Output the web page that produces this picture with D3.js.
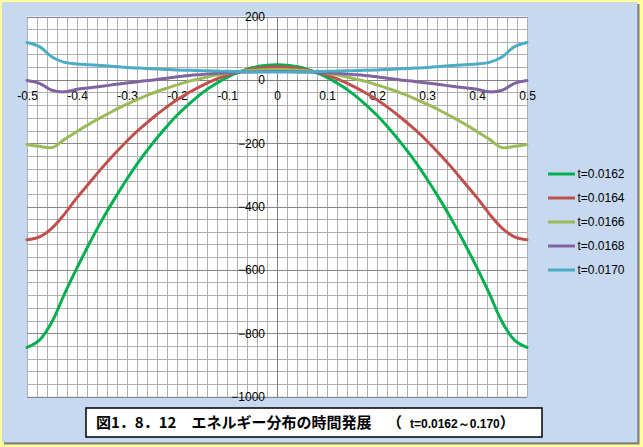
<!DOCTYPE html>
<html><head><meta charset="utf-8">
<script src="https://cdn.jsdelivr.net/npm/d3@7"></script>
<style>
html,body{margin:0;padding:0;background:#FFFF99;}
svg{display:block;}
</style></head>
<body>
<svg id="chart" width="643" height="447"></svg>
<script>
// ---- data ----
const xValues = [-0.5,-0.475,-0.45,-0.425,-0.4,-0.375,-0.35,-0.325,-0.3,-0.275,-0.25,-0.225,-0.2,-0.175,-0.15,-0.125,-0.1,-0.075,-0.05,-0.025,0,
                 0.025,0.05,0.075,0.1,0.125,0.15,0.175,0.2,0.225,0.25,0.275,0.3,0.325,0.35,0.375,0.4,0.425,0.45,0.475,0.5];
const seriesNames = ["t=0.0162","t=0.0164","t=0.0166","t=0.0168","t=0.0170"];
const seriesColors = ["#00B050","#C0504D","#9BBB59","#8064A2","#4BACC6"];
const t0162 = [-845,-822,-764,-676,-594,-516,-443,-376,-313,-255,-203,-155,-112,-75,-42,-15,8,25,38,45,48,
               45,38,25,8,-15,-42,-75,-112,-155,-203,-255,-313,-376,-443,-516,-594,-676,-764,-822,-845];
const t0164 = [-505,-496,-468,-424,-372,-325,-278,-234,-193,-156,-122,-91,-63,-39,-18,0,15,26,34,39,41,
               39,34,26,15,0,-18,-39,-63,-91,-122,-156,-193,-234,-278,-325,-372,-424,-468,-496,-505];
const t0166 = [-204,-210,-214,-188,-163,-139,-117,-96,-77,-59,-43,-29,-16,-4,5,14,21,26,30,32,33,
               32,30,26,21,14,5,-4,-16,-29,-43,-59,-77,-96,-117,-139,-163,-188,-214,-210,-204];
const t0168 = [-2,-11,-33,-38,-30,-25,-20,-15,-10,-5,-1,4,10,14,17,20,22,24,25,26,27,
               26,25,24,22,20,17,14,10,4,-1,-5,-10,-15,-20,-25,-30,-38,-33,-11,-2];
const t0170 = [118,105,72,55,50,48,45,42,39,37,35,33,31,30,29,28,27,26,25,25,25,
               25,25,26,27,28,29,30,31,33,35,37,39,42,45,48,50,55,72,105,118];
const seriesValues = [t0162,t0164,t0166,t0168,t0170];
const xTickValues = [-0.5,-0.4,-0.3,-0.2,-0.1,0,0.1,0.2,0.3,0.4,0.5];
const xTickLabels = ["-0.5","-0.4","-0.3","-0.2","-0.1","0","0.1","0.2","0.3","0.4","0.5"];
const yTickValues = [200,0,-200,-400,-600,-800,-1000];
const captionMain = "図1．8．12　エネルギー分布の時間発展";
const captionSub = "t=0.0162～0.170";

// ---- layout ----
const svg = d3.select("#chart");
const W = 643, H = 447;
const plot = {left:27, right:527, top:16.5, bottom:396.5};
const x = d3.scaleLinear().domain([-0.5,0.5]).range([plot.left, plot.right]);
const y = d3.scaleLinear().domain([-1000,200]).range([plot.bottom, plot.top]);
const font = "'Liberation Sans', Arial, sans-serif";

// background
svg.append("rect").attr("width",W).attr("height",H).attr("fill","#FFFF99");
svg.append("rect").attr("x",4).attr("y",4).attr("width",635.5).attr("height",440.5).attr("fill","#808080");
svg.append("rect").attr("x",2).attr("y",2).attr("width",635.3).attr("height",440.3).attr("fill","#C6D9F1");

// plot area
svg.append("rect").attr("x",plot.left).attr("y",plot.top)
  .attr("width",plot.right-plot.left).attr("height",plot.bottom-plot.top).attr("fill","#FFFFFF");

const grid = svg.append("g").attr("shape-rendering","crispEdges");
// vertical minor gridlines every 0.02
d3.range(0,51).forEach(i=>{
  const xv = -0.5 + i*0.02;
  const px = Math.round(x(xv))+0.5;
  grid.append("line").attr("x1",px).attr("x2",px).attr("y1",plot.top).attr("y2",plot.bottom)
    .attr("stroke","#B0B0B0").attr("stroke-width",1);
});
// horizontal gridlines every 40, major every 200
d3.range(0,31).forEach(i=>{
  const yv = -1000 + i*40;
  const py = Math.round(y(yv))+0.5;
  const major = (i % 5 === 0);
  grid.append("line").attr("x1",plot.left).attr("x2",plot.right).attr("y1",py).attr("y2",py)
    .attr("stroke", major ? "#868686" : "#B0B0B0").attr("stroke-width",1);
});
// axes lines
grid.append("line").attr("x1",Math.round(x(0))+0.5).attr("x2",Math.round(x(0))+0.5)
  .attr("y1",plot.top).attr("y2",plot.bottom).attr("stroke","#808080");
grid.append("line").attr("x1",plot.left).attr("x2",plot.right)
  .attr("y1",Math.round(y(0))+0.5).attr("y2",Math.round(y(0))+0.5).attr("stroke","#808080");

// tick labels via axes
const xAxis = d3.axisBottom(x).tickValues(xTickValues)
  .tickFormat((d,i)=>xTickLabels[i]).tickSize(0).tickPadding(12);
const gx = svg.append("g").attr("transform",`translate(0,${y(0)})`).call(xAxis);
gx.select(".domain").remove();
gx.selectAll("text").attr("font-family",font).attr("font-size",12).attr("fill","#000");

const yAxis = d3.axisLeft(y).tickValues(yTickValues).tickFormat(d3.format("d")).tickSize(0).tickPadding(12);
const gy = svg.append("g").attr("transform",`translate(${x(0)},0)`).call(yAxis);
gy.select(".domain").remove();
gy.selectAll("text").attr("font-family",font).attr("font-size",12).attr("fill","#000");

// lines
const line = d3.line().x((d,i)=>x(xValues[i])).y(d=>y(d)).curve(d3.curveCatmullRom.alpha(0.5));
seriesValues.forEach((vals,k)=>{
  svg.append("path").datum(vals).attr("d",line).attr("fill","none")
    .attr("stroke",seriesColors[k]).attr("stroke-width",3).attr("stroke-linejoin","round").attr("stroke-linecap","round");
});

// legend
const legend = svg.append("g");
seriesNames.forEach((name,k)=>{
  const ly = 174 + k*24;
  legend.append("line").attr("x1",548).attr("x2",575).attr("y1",ly).attr("y2",ly)
    .attr("stroke",seriesColors[k]).attr("stroke-width",3);
  legend.append("text").attr("x",577.5).attr("y",ly).attr("dy","0.35em")
    .attr("font-family",font).attr("font-size",12).attr("fill","#000").text(name);
});

// caption
svg.append("rect").attr("x",86).attr("y",408).attr("width",456).attr("height",29)
  .attr("fill","#FFFFFF").attr("stroke","#000").attr("stroke-width",1.5);
const cap = svg.append("text").attr("y",428).attr("fill","#000");
cap.append("tspan").attr("x",96).attr("font-family","'Noto Sans CJK JP', sans-serif")
  .attr("font-size",15).attr("font-weight",700).text(captionMain);
cap.append("tspan").attr("x",387).attr("font-family","'Noto Sans CJK JP', sans-serif")
  .attr("font-size",15).attr("font-weight",700).text("（");
cap.append("tspan").attr("x",410).attr("font-family",font)
  .attr("font-size",12).attr("font-weight",700).text(captionSub);
cap.append("tspan").attr("font-family","'Noto Sans CJK JP', sans-serif")
  .attr("font-size",15).attr("font-weight",700).text("）");
</script>
</body></html>
